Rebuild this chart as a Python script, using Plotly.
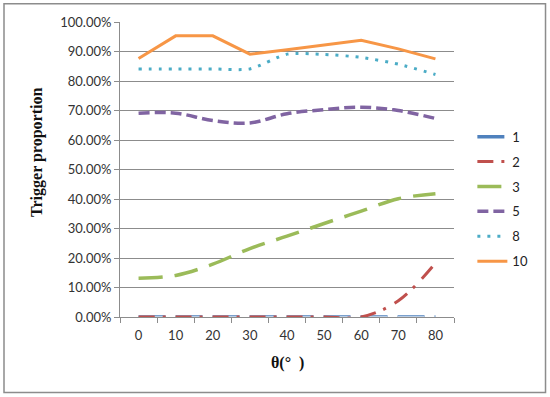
import plotly.graph_objects as go

categories = ["0", "10", "20", "30", "40", "50", "60", "70", "80"]
s1 = [0, 0, 0, 0, 0, 0, 0, 0, 0]
s2 = [0, 0, 0, 0, 0, 0, 0, 0.055, 0.183]
s3 = [0.131, 0.141, 0.179, 0.232, 0.274, 0.317, 0.359, 0.401, 0.418]
s5 = [0.691, 0.691, 0.666, 0.658, 0.689, 0.703, 0.711, 0.700, 0.673]
s8 = [0.841, 0.841, 0.841, 0.841, 0.891, 0.890, 0.880, 0.857, 0.822]
s10 = [0.876, 0.953, 0.953, 0.891, 0.906, 0.922, 0.938, 0.909, 0.875]
series_names = ["1", "2", "3", "5", "8", "10"]

fig = go.Figure()
fig.add_trace(go.Scatter(x=categories, y=s1, mode="lines", name=series_names[0], legendgroup="g1",
                         line=dict(color="#4F81BD", width=3.5, dash="27px,10px")))
fig.add_trace(go.Scatter(x=categories, y=s1, mode="lines", showlegend=False, legendgroup="g1",
                         hoverinfo="skip", line=dict(color="#B9CDE5", width=1.8, dash="27px,10px")))
fig.add_trace(go.Scatter(x=categories, y=s2, mode="lines", name=series_names[1], legendgroup="g2",
                         line=dict(color="#C0504D", width=3, dash="16px,8px,3px,10px", shape="spline")))
fig.add_trace(go.Scatter(x=categories, y=s3, mode="lines", name=series_names[2], legendgroup="g3",
                         line=dict(color="#9BBB59", width=3.5, dash="24px,12px", shape="spline")))
fig.add_trace(go.Scatter(x=categories, y=s5, mode="lines", name=series_names[3], legendgroup="g5",
                         line=dict(color="#8064A2", width=3.5, dash="11px,5px", shape="spline")))
fig.add_trace(go.Scatter(x=categories, y=s8, mode="lines", name=series_names[4], legendgroup="g8",
                         line=dict(color="#4BACC6", width=3, dash="3px,7px", shape="spline", smoothing=0.7)))
fig.add_trace(go.Scatter(x=categories, y=s10, mode="lines", name=series_names[5], legendgroup="g10",
                         line=dict(color="#F79646", width=3)))

grid = "#8C8C8C"
fig.update_layout(
    width=550, height=397, autosize=False,
    margin=dict(l=120, r=96, t=22, b=80),
    paper_bgcolor="white", plot_bgcolor="white",
    font=dict(family="Lato, Liberation Sans, sans-serif", size=13, color="#333333"),
    showlegend=True,
    legend=dict(x=1.055, xanchor="left", y=0.662, yanchor="top", tracegroupgap=5,
                font=dict(size=13, color="#222222"), bgcolor="rgba(0,0,0,0)"),
    xaxis=dict(type="category", range=[-0.5, 8.5], showline=True, linecolor=grid, linewidth=1,
               ticks="outside", tickson="boundaries", ticklen=5, tickcolor=grid,
               showgrid=False, ticklabelstandoff=6),
    yaxis=dict(range=[0, 1], dtick=0.1, tickformat=".2%", showline=True, linecolor=grid,
               linewidth=1, ticks="outside", ticklen=5, tickcolor=grid,
               showgrid=True, gridcolor=grid, gridwidth=1, zeroline=False),
    annotations=[
        dict(text="<b>Trigger proportion</b>", xref="paper", yref="paper", x=-0.2485, y=0.556,
             textangle=-90, showarrow=False, xanchor="center", yanchor="middle",
             font=dict(family="Liberation Serif, serif", size=16, color="#111111")),
        dict(text="<b>θ(°  )</b>", xref="paper", yref="paper", x=0.5, y=-0.157,
             showarrow=False, xanchor="center", yanchor="middle",
             font=dict(family="Liberation Serif, serif", size=16, color="#111111")),
    ],
    shapes=[dict(type="rect", xref="paper", yref="paper", x0=-0.3473, x1=1.274, y0=-0.2558, y1=1.0622,
                 line=dict(color="#8C8C8C", width=1.5), fillcolor="rgba(0,0,0,0)", layer="below")],
)

fig.write_html("out.html", config={"displayModeBar": False},
               post_script="document.body.style.margin='0';")
